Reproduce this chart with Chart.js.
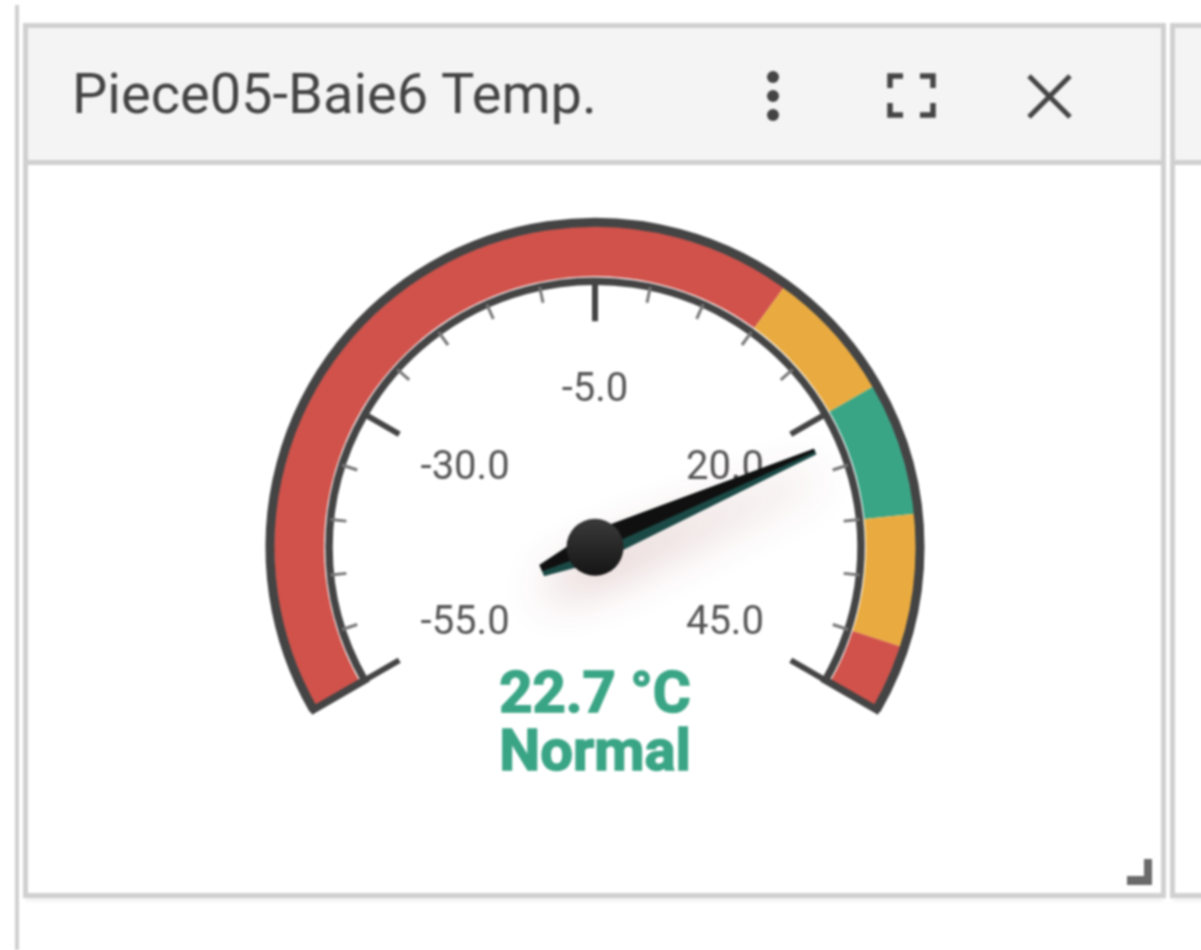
<!DOCTYPE html>
<html>
<head>
<meta charset="utf-8">
<title>Piece05-Baie6 Temp.</title>
<script src="https://cdn.jsdelivr.net/npm/chart.js@4"></script>
<style>
  html, body { margin: 0; padding: 0; background: #fff; overflow: hidden; }
  #stage { position: relative; width: 1201px; height: 950px; filter: blur(0.8px); font-family: Roboto, sans-serif; }
  .rule { position: absolute; left: 15px; top: 5px; width: 4px; height: 945px; background: #d0d0d0; }
  .panel { position: absolute; box-sizing: border-box; top: 23px; height: 875px; border: 5px solid #d0d0d0; border-bottom-width: 5px; box-shadow: 0 5px 4px -2px #f0f0f0; }
  #main { left: 23px; width: 1143px; }
  #next { left: 1170px; width: 60px; }
  .head { height: 132px; background: #f4f4f4; border-bottom: 5px solid #d0d0d0; }
  #title { position: absolute; left: 72px; top: 63px; font-size: 56px; line-height: 62px; color: #444; white-space: nowrap; }
  #icons { position: absolute; left: 0; top: 0; }
  #handle { position: absolute; left: 1127px; top: 859px; }
  canvas { position: absolute; left: 0; top: 0; }
</style>
</head>
<body>
<div id="stage">
  <div class="rule"></div>
  <div class="panel" id="main"><div class="head"></div></div>
  <div class="panel" id="next"><div class="head"></div></div>
  <div id="title">Piece05-Baie6 Temp.</div>
  <svg id="icons" width="1201" height="160">
    <g fill="#444">
      <circle cx="773" cy="77" r="6"/>
      <circle cx="773" cy="96" r="6"/>
      <circle cx="773" cy="115" r="6"/>
    </g>
    <path d="M890 88V76H903M933 88V76H920M890 103V115H903M933 103V115H920" fill="none" stroke="#444" stroke-width="5.5"/>
    <path d="M1029 76L1070 117M1070 76L1029 117" fill="none" stroke="#444" stroke-width="5"/>
  </svg>
  <svg id="handle" width="26" height="27"><path d="M17 0H25V26H0V17H17Z" fill="#6a6a6a"/></svg>
  <div id="wrap" style="position:absolute;left:0;top:0;width:1201px;height:950px"><canvas id="gauge"></canvas></div>
</div>
<script>
const scaleMin = -55
const scaleMax = 45
const sweep    = 240

const bandEdges  = [-55, 10, 20, 30, 40, 45]
const bandColors = ["#D0524B", "#E9AB40", "#3AA585", "#E9AB40", "#D0524B"]
const majorTicks = [-55, -30, -5, 20, 45]
const tickLabels = ["-55.0", "-30.0", "-5.0", "20.0", "45.0"]
const minorStep  = 5

const value     = 22.7
const valueText = "22.7 °C"
const stateText = "Normal"

const bandSizes = bandEdges.slice(1).map((edge, i) => edge - bandEdges[i])

// 0 = straight up, clockwise, in radians
const angleOf = v => ((v - scaleMin) / (scaleMax - scaleMin) - 0.5) * sweep * Math.PI / 180

const gaugeFace = {
  id: "gaugeFace",
  afterDatasetsDraw(chart) {
    const arc = chart.getDatasetMeta(0).data[0]
    const cx = arc.x, cy = arc.y
    const ctx = chart.ctx
    const a0 = angleOf(scaleMin) - Math.PI / 2
    const a1 = angleOf(scaleMax) - Math.PI / 2
    const polar = (a, r) => [cx + Math.sin(a) * r, cy - Math.cos(a) * r]

    ctx.save()

    // rim
    ctx.beginPath()
    ctx.arc(cx, cy, 325, a0, a1)
    ctx.arc(cx, cy, 266, a1, a0, true)
    ctx.closePath()
    ctx.lineWidth = 7.5
    ctx.lineJoin = "miter"
    ctx.strokeStyle = "#444"
    ctx.stroke()
    ctx.beginPath()
    ctx.arc(cx, cy, 325, a0, a1)
    ctx.lineWidth = 9
    ctx.stroke()

    // minor ticks
    ctx.strokeStyle = "#777"
    ctx.lineWidth = 3
    for (let v = scaleMin; v <= scaleMax; v += minorStep) {
      if (majorTicks.includes(v)) continue
      const a = angleOf(v)
      ctx.beginPath()
      ctx.moveTo(...polar(a, 266))
      ctx.lineTo(...polar(a, 250))
      ctx.stroke()
    }

    // major ticks
    ctx.strokeStyle = "#444"
    ctx.lineWidth = 6
    majorTicks.forEach(v => {
      const a = angleOf(v)
      ctx.beginPath()
      ctx.moveTo(...polar(a, 266))
      ctx.lineTo(...polar(a, 226))
      ctx.stroke()
    })

    // tick labels
    ctx.fillStyle = "#555"
    ctx.font = "40px Roboto"
    ctx.textAlign = "center"
    ctx.textBaseline = "middle"
    majorTicks.forEach((v, i) => {
      const a = angleOf(v)
      ctx.fillText(tickLabels[i], cx + Math.sin(a) * 150, cy - Math.cos(a) * 155 - 1)
    })

    // value and state
    ctx.fillStyle = "#3AA585"
    ctx.strokeStyle = "#3AA585"
    ctx.lineWidth = 1.5
    ctx.font = "700 58px Roboto"
    ctx.fillText(valueText, cx, cy + 150)
    ctx.strokeText(valueText, cx, cy + 150)
    ctx.fillText(stateText, cx, cy + 208)
    ctx.strokeText(stateText, cx, cy + 208)

    // needle
    const a = angleOf(value)
    const side = (r, w) => {
      const [x, y] = polar(a, r)
      return [x + Math.cos(a) * w, y + Math.sin(a) * w]
    }
    const quad = (color, tipA, tipB, hubB, tailB, tailA, hubA) => {
      ctx.beginPath()
      ctx.moveTo(...side(240, tipA))
      ctx.lineTo(...side(240, tipB))
      ctx.lineTo(...side(0, hubB))
      ctx.lineTo(...side(-58, tailB))
      ctx.lineTo(...side(-58, tailA))
      ctx.lineTo(...side(0, hubA))
      ctx.closePath()
      ctx.fillStyle = color
      ctx.fill()
    }
    ctx.save()
    ctx.shadowColor = "rgba(140, 50, 50, 0.3)"
    ctx.shadowBlur = 45
    ctx.shadowOffsetX = 4
    ctx.shadowOffsetY = 22
    quad("#17423F", -3, 3, 14, 6, -6, -16)
    ctx.restore()
    quad("#1B4A46", 0, 3, 15, 6, 1, 4)
    quad("#101010", -3, 0, 4, 1, -6, -16)

    // hub
    const hub = ctx.createLinearGradient(0, cy - 28, 0, cy + 28)
    hub.addColorStop(0, "#3A3A3A")
    hub.addColorStop(1, "#151515")
    ctx.beginPath()
    ctx.arc(cx, cy, 28.5, 0, Math.PI * 2)
    ctx.fillStyle = hub
    ctx.fill()

    ctx.restore()
  }
}

new Chart(document.getElementById("gauge"), {
  type: "doughnut",
  data: {
    labels: bandColors.map((c, i) => `${bandEdges[i]} – ${bandEdges[i + 1]}`),
    datasets: [{
      data: bandSizes,
      backgroundColor: bandColors,
      borderWidth: 0
    }]
  },
  options: {
    responsive: true,
    maintainAspectRatio: false,
    animation: false,
    events: [],
    rotation: -sweep / 2,
    circumference: sweep,
    radius: 321,
    cutout: "84.4%",
    layout: { padding: { right: 11, bottom: 16 } },
    plugins: { legend: { display: false }, tooltip: { enabled: false } }
  },
  plugins: [gaugeFace]
})
</script>
</body>
</html>
